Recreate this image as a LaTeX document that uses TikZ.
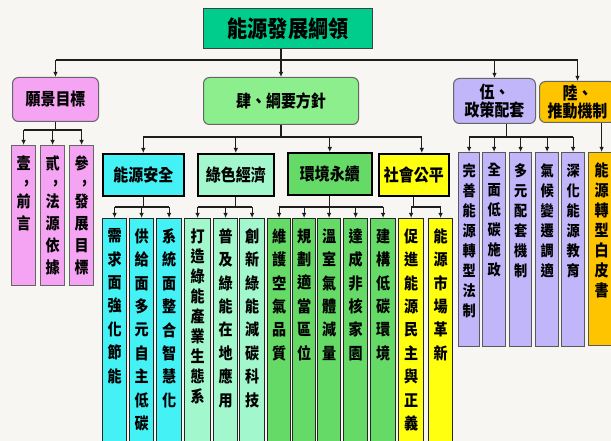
\documentclass[tikz,border=0pt]{standalone}
\usepackage{fontspec}
\newfontfamily\cjk[FakeStretch=0.88]{Noto Sans CJK TC}
\usetikzlibrary{arrows.meta,calc}
\definecolor{bgc}{HTML}{F7F6F2}
\definecolor{titc}{HTML}{00CC8C}
\definecolor{pinkc}{HTML}{F4A4F2}
\definecolor{sic}{HTML}{8CEE8C}
\definecolor{cyanc}{HTML}{44F2F6}
\definecolor{mintc}{HTML}{A2F7CC}
\definecolor{greenc}{HTML}{66DA66}
\definecolor{yelc}{HTML}{FFFF10}
\definecolor{lavc}{HTML}{C2B6FA}
\definecolor{goldc}{HTML}{FFC400}
\definecolor{linec}{HTML}{1E1E1E}
\newcommand{\vcol}[6]{\parbox[t][#2][t]{#1}{\vspace*{#5}\centering\fontsize{#3}{#4}\selectfont #6\par}}
\newcommand{\Lc}[5]{\node[cbox, fill=#2] (#1) at (#3,218) {\vcol{#4pt}{232pt}{16pt}{23.4pt}{10pt}{#5}};}
\newcommand{\Wc}[4]{\node[cbox, fill=lavc, draw=black!65] (#1) at (#2,152) {\vcol{#3pt}{194pt}{15pt}{20pt}{11pt}{#4}};}
\newcommand{\cm}{\\[-8pt]\hspace*{6pt},\\[2pt]}
\begin{document}
\begin{tikzpicture}[x=1pt,y=-1pt,
 conn/.style={draw=linec, line width=1.2pt},
 arr/.style={conn, -{Latex[length=5pt,width=4.5pt]}},
 rbox/.style={draw=black!60, line width=1pt, rounded corners=6pt, inner sep=0pt, anchor=north west, align=center, font=\cjk\bfseries\fontsize{17}{17.5}\selectfont},
 sbox/.style={draw=black, line width=1.6pt, inner sep=0pt, anchor=north west, font=\cjk\bfseries\fontsize{17}{18}\selectfont},
 cbox/.style={draw=black!85, line width=1.2pt, inner sep=0pt, anchor=north west, font=\cjk\bfseries},
]
\fill[bgc] (0,0) rectangle (611,441);
\useasboundingbox (0,0) rectangle (611,441);
\clip (0,0) rectangle (611,441);

% top level
\node[sbox, fill=titc, draw=black!75, line width=1.2pt, minimum width=169pt, minimum height=40pt, font=\cjk\bfseries\fontsize{23}{26}\selectfont] (title) at (203,8) {能源發展綱領};
\node[rbox, fill=pinkc, minimum width=86pt, minimum height=44pt] (vis) at (12,77) {願景目標};
\node[rbox, fill=sic, minimum width=155pt, minimum height=47pt] (si) at (203,77) {肆、綱要方針};
\node[rbox, fill=lavc, minimum width=82pt, minimum height=45pt] (wu) at (453,78) {伍、\\政策配套};
\node[rbox, fill=goldc, minimum width=76pt, minimum height=41pt] (lu) at (539,81) {陸、\\推動機制};

% vision children
\node[cbox, fill=pinkc, draw=black!60] (g1) at (11,145) {\vcol{24pt}{140pt}{16pt}{22pt}{10pt}{壹\cm 前\\言}};
\node[cbox, fill=pinkc, draw=black!60] (g2) at (40,145) {\vcol{24pt}{140pt}{16pt}{22pt}{10pt}{貳\cm 法\\源\\依\\據}};
\node[cbox, fill=pinkc, draw=black!60] (g3) at (69,145) {\vcol{24pt}{140pt}{16pt}{22pt}{10pt}{參\cm 發\\展\\目\\標}};

% level 2
\node[sbox, fill=cyanc, minimum width=81pt, minimum height=42pt] (ne) at (102,153) {能源安全};
\node[sbox, fill=mintc, minimum width=76pt, minimum height=42pt] (gr) at (197,153) {綠色經濟};
\node[sbox, fill=greenc, minimum width=84pt, minimum height=42pt] (en) at (287,152) {環境永續};
\node[sbox, fill=yelc, minimum width=70pt, minimum height=42pt] (she) at (378,153) {社會公平};

% level 3
\Lc{a1}{cyanc}{102}{24}{需\\求\\面\\強\\化\\節\\能}
\Lc{a2}{cyanc}{129}{24}{供\\給\\面\\多\\元\\自\\主\\低\\碳}
\Lc{a3}{cyanc}{156}{25}{系\\統\\面\\整\\合\\智\\慧\\化}
\node[cbox, fill=mintc] (b1) at (184,218) {\vcol{26pt}{232pt}{16pt}{20pt}{10pt}{打\\造\\綠\\能\\產\\業\\生\\態\\系}};
\Lc{b2}{mintc}{213}{24}{普\\及\\綠\\能\\在\\地\\應\\用}
\Lc{b3}{mintc}{239}{25}{創\\新\\綠\\能\\減\\碳\\科\\技}
\Lc{c1}{greenc}{267}{23}{維\\護\\空\\氣\\品\\質}
\Lc{c2}{greenc}{292}{23}{規\\劃\\適\\當\\區\\位}
\Lc{c3}{greenc}{317}{23}{溫\\室\\氣\\體\\減\\量}
\Lc{c4}{greenc}{343}{24}{達\\成\\非\\核\\家\\園}
\Lc{c5}{greenc}{370}{25}{建\\構\\低\\碳\\環\\境}
\Lc{d1}{yelc}{398}{25}{促\\進\\能\\源\\民\\主\\與\\正\\義}
\Lc{d2}{yelc}{428}{24}{能\\源\\市\\場\\革\\新}

% policy children
\Wc{e1}{458}{21}{完\\善\\能\\源\\轉\\型\\法\\制}
\Wc{e2}{482}{23}{全\\面\\低\\碳\\施\\政}
\Wc{e3}{509}{22}{多\\元\\配\\套\\機\\制}
\Wc{e4}{535}{23}{氣\\候\\變\\遷\\調\\適}
\Wc{e5}{561}{23}{深\\化\\能\\源\\教\\育}
\node[cbox, fill=goldc, draw=black!65] (f1) at (588,152) {\vcol{26pt}{193pt}{16pt}{20pt}{10pt}{能\\源\\轉\\型\\白\\皮\\書}};

% connectors
\coordinate (b1y) at (0,60);
\coordinate (b2y) at (0,137);
\coordinate (b3y) at (0,207);
\coordinate (bvy) at (0,130);
\coordinate (sheT) at ($(she.north)+(8,0)$);
\coordinate (wuB) at ($(wu.south)+(12,0)$);

\draw[arr] (title.south -| si.north) -- (si.north);
\draw[conn] (vis.north |- b1y) -- (lu.north |- b1y);
\foreach \n in {vis,wu,lu} \draw[arr] (\n.north |- b1y) -- (\n.north);

\draw[conn] (vis.south) -- (vis.south |- bvy);
\draw[conn] (g1.north |- bvy) -- (g3.north |- bvy);
\foreach \n in {g1,g2,g3} \draw[arr] (\n.north |- bvy) -- (\n.north);

\draw[conn] (si.south) -- (si.south |- b2y);
\draw[conn] (ne.north |- b2y) -- (sheT |- b2y);
\foreach \n in {ne,gr,en} \draw[arr] (\n.north |- b2y) -- (\n.north);
\draw[arr] (sheT |- b2y) -- (sheT);

\draw[conn] (ne.south) -- (ne.south |- b3y);
\draw[conn] (a1.north |- b3y) -- (a3.north |- b3y);
\foreach \n in {a1,a2,a3} \draw[arr] (\n.north |- b3y) -- (\n.north);

\draw[conn] (gr.south) -- (gr.south |- b3y);
\draw[conn] (b1.north |- b3y) -- (b3.north |- b3y);
\foreach \n in {b1,b2,b3} \draw[arr] (\n.north |- b3y) -- (\n.north);

\draw[conn] (en.south) -- (en.south |- b3y);
\draw[conn] (c1.north |- b3y) -- (c5.north |- b3y);
\foreach \n in {c1,c2,c3,c4,c5} \draw[arr] (\n.north |- b3y) -- (\n.north);

\draw[conn] (she.south) -- (she.south |- b3y);
\draw[conn] (d1.north |- b3y) -- (d2.north |- b3y);
\foreach \n in {d1,d2} \draw[arr] (\n.north |- b3y) -- (\n.north);

\draw[conn] (wuB) -- (wuB |- b2y);
\draw[conn] (e1.north |- b2y) -- (e5.north |- b2y);
\foreach \n in {e1,e2,e3,e4,e5} \draw[arr] (\n.north |- b2y) -- (\n.north);

\draw[arr] (f1.north |- lu.south) -- (f1.north);
\end{tikzpicture}
\end{document}
